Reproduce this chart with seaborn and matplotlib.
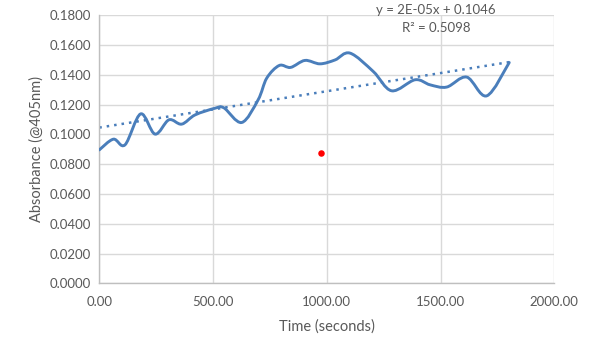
import numpy as np
import matplotlib
matplotlib.use("Agg")
import matplotlib.pyplot as plt
from matplotlib.path import Path
from matplotlib.patches import PathPatch
import seaborn as sns
import pandas as pd

# ---- data ----
time_s = [0, 62, 113, 182, 245, 306, 362, 421, 509, 548, 626, 698, 736, 791,
          841, 904, 970, 1036, 1102, 1204, 1285, 1388, 1454, 1527, 1615, 1703, 1802]
absorbance = [0.0896, 0.0968, 0.0930, 0.1138, 0.1002, 0.1098, 0.1069, 0.1131,
              0.1176, 0.1178, 0.1080, 0.1232, 0.1378, 0.1463, 0.1450, 0.1497,
              0.1474, 0.1500, 0.1546, 0.1423, 0.1293, 0.1367, 0.1333, 0.1318,
              0.1385, 0.1259, 0.1483]
outlier_time = [973]
outlier_abs = [0.0876]
trend_slope = 2.44e-05
trend_intercept = 0.1046
eq_text = "y = 2E-05x + 0.1046"
r2_text = "R² = 0.5098"
x_ticks = [0, 500, 1000, 1500, 2000]
y_ticks = [0.0, 0.02, 0.04, 0.06, 0.08, 0.10, 0.12, 0.14, 0.16, 0.18]

sns.set_theme(style="white")
plt.rcParams['font.family'] = ['Lato', 'DejaVu Sans']

txt = "#595959"
blue = "#4A7EBB"
grid = "#D9D9D9"

fig = plt.figure(figsize=(5.96, 3.52), dpi=100)
ax = fig.add_axes([99.3/596, 1-283.3/352, 455/596, (283.3-15.3)/352])

df = pd.DataFrame({"t": time_s, "a": absorbance})

# smoothed line (Excel-style Bezier between data points)
xs = np.asarray(df["t"], float)
ys = np.asarray(df["a"], float)
verts = [(xs[0], ys[0])]
codes = [Path.MOVETO]
n = len(xs)
for i in range(n - 1):
    p0 = (xs[i-1], ys[i-1]) if i > 0 else (xs[i], ys[i])
    p1 = (xs[i], ys[i])
    p2 = (xs[i+1], ys[i+1])
    p3 = (xs[i+2], ys[i+2]) if i + 2 < n else (xs[i+1], ys[i+1])
    t = 1/6
    c1 = (p1[0] + (p2[0]-p0[0])*t, p1[1] + (p2[1]-p0[1])*t)
    c2 = (p2[0] - (p3[0]-p1[0])*t, p2[1] - (p3[1]-p1[1])*t)
    verts += [c1, c2, p2]
    codes += [Path.CURVE4]*3
ax.add_patch(PathPatch(Path(verts, codes), facecolor="none", edgecolor=blue,
                       lw=2.1, capstyle="round", joinstyle="round", zorder=3))

# trendline
tr = pd.DataFrame({"t": [time_s[0], time_s[-1]]})
tr["a"] = trend_intercept + trend_slope * tr["t"]
sns.lineplot(data=tr, x="t", y="a", ax=ax, color=blue, lw=1.8,
             linestyle=(0, (1.0, 2.0)), dash_capstyle="butt", zorder=2)

# outlier point
sns.scatterplot(x=outlier_time, y=outlier_abs, ax=ax, color="#FF0000",
                s=22, edgecolor="#FF0000", linewidth=0, zorder=4)

ax.set_xlim(0, 2000)
ax.set_ylim(0, 0.18)
ax.set_xticks(x_ticks)
ax.set_yticks(y_ticks)
ax.set_xticklabels([f"{v:.2f}" for v in x_ticks])
ax.set_yticklabels([f"{v:.4f}" for v in y_ticks])
ax.grid(True, color=grid, lw=1)
ax.set_axisbelow(True)
for s in ["top", "right"]:
    ax.spines[s].set_visible(False)
for s in ["left", "bottom"]:
    ax.spines[s].set_color("#BFBFBF")
    ax.spines[s].set_linewidth(1)
ax.tick_params(axis="both", length=0, labelsize=9.5, colors=txt)
ax.tick_params(axis="x", pad=9)
ax.tick_params(axis="y", pad=6)
ax.set_xlabel("Time (seconds)", fontsize=10.5, color=txt, labelpad=8)
ax.set_ylabel("Absorbance (@405nm)", fontsize=10.5, color=txt, labelpad=4)

fig.text(435.5/596, 1-9.5/352, eq_text, ha="center", va="center", fontsize=9.5, color=txt)
fig.text(436/596, 1-28.5/352, r2_text, ha="center", va="center", fontsize=9.5, color=txt)

fig.savefig("out.png", dpi=100, facecolor="white")
